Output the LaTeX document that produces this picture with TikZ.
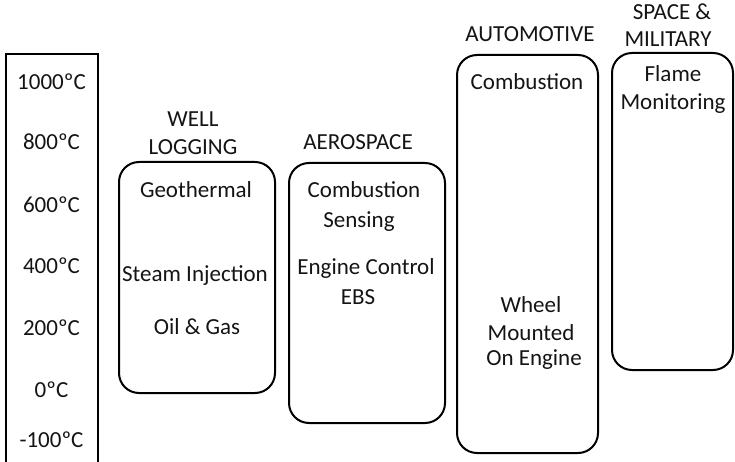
\documentclass[tikz,border=0pt]{standalone}
\usepackage{fontspec}
\setmainfont{Carlito}
\definecolor{inkgray}{RGB}{20,20,20}
\begin{document}
\begin{tikzpicture}[x=1pt,y=-1pt,
  appbox/.style={draw=black,line width=2pt,rounded corners=20pt},
  scalebox/.style={draw=black,line width=2.4pt},
  lbl/.style={anchor=base,inner sep=0pt,text=inkgray,font=\fontsize{23}{27}\selectfont}]
\useasboundingbox (0,0) rectangle (735,462);
\clip (0,0) rectangle (735,462);

% temperature scale
\draw[scalebox] (6,54) rectangle (98,480);
\node[lbl] (t1000) at (51.5,90) {1000ºC};
\node[lbl] (t800)  at (51.5,150) {800ºC};
\node[lbl] (t600)  at (51.5,212) {600ºC};
\node[lbl] (t400)  at (51.5,273) {400ºC};
\node[lbl] (t200)  at (51.5,335) {200ºC};
\node[lbl] (t0)    at (51.5,397) {0ºC};
\node[lbl] (tm100) at (51.5,447) {-100ºC};

% well logging
\draw[appbox] (119,162) rectangle (275,393);
\node[lbl] (wellA) at (193,127) {WELL};
\node[lbl] (wellB) at (193,155) {LOGGING};
\node[lbl] (geo)   at (196,198) {Geothermal};
\node[lbl] (steam) at (195,281) {Steam Injection};
\node[lbl] (oil)   at (197,334) {Oil \& Gas};

% aerospace
\draw[appbox] (289,163) rectangle (445,423);
\node[lbl] (aero)  at (358,150) {AEROSPACE};
\node[lbl] (comb)  at (364,198) {Combustion};
\node[lbl] (sens)  at (359,227) {Sensing};
\node[lbl] (eng)   at (366,274) {Engine Control};
\node[lbl] (ebs)   at (358,304) {EBS};

% automotive
\draw[appbox] (457,55) rectangle (598,453);
\node[lbl] (auto)  at (530,42) {AUTOMOTIVE};
\node[lbl] (acomb) at (527,90) {Combustion};
\node[lbl] (wheel) at (531,312) {Wheel};
\node[lbl] (mount) at (531,340) {Mounted};
\node[lbl] (oneng) at (534,365) {On Engine};

% space & military
\draw[appbox] (612,53) rectangle (733,370);
\node[lbl] (spaceA) at (672,20) {SPACE \&};
\node[lbl] (spaceB) at (668,47) {MILITARY};
\node[lbl] (flame)  at (673,82) {Flame};
\node[lbl] (monit)  at (673,110) {Monitoring};
\end{tikzpicture}
\end{document}
